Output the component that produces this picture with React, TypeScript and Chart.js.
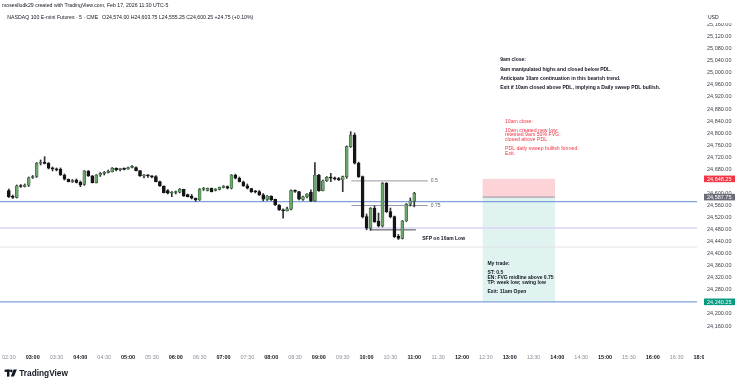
import React, { useEffect, useRef } from "react";
import { Chart, registerables } from "chart.js";

Chart.register(...registerables);

const FONT = "'Liberation Sans', Arial, sans-serif";

// ---------- data ----------
const symbolTitle = "NASDAQ 100 E-mini Futures \u00b7 5 \u00b7 CME";
const attribution = "moseslludk29 created with TradingView.com, Feb 17, 2026 11:30 UTC-5";

const barTimes = [
  "02:30","02:35","02:40","02:45","02:50","02:55","03:00","03:05","03:10","03:15",
  "03:20","03:25","03:30","03:35","03:40","03:45","03:50","03:55","04:00","04:05",
  "04:10","04:15","04:20","04:25","04:30","04:35","04:40","04:45","04:50","04:55",
  "05:00","05:05","05:10","05:15","05:20","05:25","05:30","05:35","05:40","05:45",
  "05:50","05:55","06:00","06:05","06:10","06:15","06:20","06:25","06:30","06:35",
  "06:40","06:45","06:50","06:55","07:00","07:05","07:10","07:15","07:20","07:25",
  "07:30","07:35","07:40","07:45","07:50","07:55","08:00","08:05","08:10","08:15",
  "08:20","08:25","08:30","08:35","08:40","08:45","08:50","08:55","09:00","09:05",
  "09:10","09:15","09:20","09:25","09:30","09:35","09:40","09:45","09:50","09:55",
  "10:00","10:05","10:10","10:15","10:20","10:25","10:30","10:35","10:40","10:45",
  "10:50","10:55","11:00"
];

const opens = [
  24609, 24590, 24587, 24625.5, 24623, 24627, 24652.75, 24656, 24700, 24702.5,
  24700, 24684.5, 24681, 24680, 24661, 24647, 24639, 24644, 24637, 24630,
  24674.5, 24658, 24635.5, 24661, 24666.75, 24669.5, 24672, 24683.5, 24679, 24681.5,
  24681, 24686, 24686, 24675.5, 24658, 24660.5, 24658, 24655.5, 24639, 24624.5,
  24609, 24600.5, 24603, 24604, 24613.5, 24596, 24591, 24584, 24578, 24613.75,
  24610, 24617, 24610, 24613.5, 24620.25, 24623, 24617, 24661, 24650.25, 24638,
  24625.5, 24616, 24606, 24606, 24595, 24580, 24591, 24580, 24561.5, 24545,
  24542, 24548, 24609, 24606, 24580, 24589, 24604, 24575, 24661, 24609,
  24642, 24653.5, 24651, 24649.5, 24644.5, 24655.5, 24755, 24793.75, 24700, 24655.5,
  24523, 24485, 24550.5, 24508, 24492, 24633.5, 24539.5, 24522.75, 24458, 24451,
  24508.5, 24564, 24574
];

const highs = [
  24614.75, 24594.75, 24628, 24629.5, 24631.25, 24654.5, 24659.5, 24702.5, 24711, 24722,
  24702.5, 24687.75, 24684.5, 24684.5, 24664.5, 24648, 24646.25, 24648, 24641.25, 24676,
  24676, 24659.5, 24662.75, 24669.5, 24672.75, 24677.75, 24686, 24684.5, 24682.75, 24684.5,
  24687.75, 24692.75, 24688, 24676, 24662.75, 24662.75, 24659.5, 24659.5, 24641.25, 24625,
  24613, 24606.5, 24608, 24616.25, 24614, 24598, 24596.5, 24585, 24616.25, 24619.75,
  24618, 24618, 24616, 24621.25, 24626.25, 24624.75, 24662.75, 24664, 24654.5, 24641.25,
  24631.25, 24617, 24609.75, 24609.75, 24599.75, 24593, 24592, 24581.5, 24563.25, 24549,
  24555, 24611.5, 24611.5, 24607, 24591.5, 24599.75, 24611.5, 24702, 24663, 24644.5,
  24656.25, 24666.75, 24654.5, 24653, 24657.75, 24757.5, 24805, 24800.5, 24704, 24657.75,
  24531.75, 24553, 24558.25, 24535, 24636.25, 24636, 24551.5, 24525, 24463.75, 24510.25,
  24566.5, 24585, 24603.75
];

const lows = [
  24586.5, 24583.25, 24584.75, 24619.75, 24621.25, 24623, 24649.5, 24653, 24694.25, 24697.5,
  24681, 24674.5, 24674.5, 24659.5, 24644.5, 24638, 24636.25, 24634.5, 24622.25, 24627,
  24656.25, 24634.5, 24634.5, 24656.25, 24661, 24667.75, 24671, 24674.5, 24674.5, 24677.75,
  24680, 24684.5, 24674.5, 24656.25, 24651.25, 24653, 24651.25, 24638, 24623, 24601.5,
  24598, 24589, 24598, 24601.5, 24589.75, 24588, 24581.5, 24573.25, 24576.5, 24609.75,
  24608, 24604.75, 24608, 24611.5, 24618, 24614.75, 24614.75, 24648, 24638, 24623,
  24614.75, 24603, 24601.5, 24593, 24575, 24576.5, 24576.5, 24560, 24543.25, 24517.5,
  24541.75, 24545, 24603, 24578.25, 24576.5, 24584.75, 24572.5, 24573.25, 24606.5, 24608,
  24639.5, 24639, 24644.5, 24643, 24605.75, 24650, 24752.5, 24697.5, 24653, 24518.5,
  24479, 24478, 24503.5, 24488.5, 24488.5, 24536.75, 24518.5, 24453.75, 24447, 24448.75,
  24506.75, 24558.25, 24555.25
];

const closes = [
  24589, 24586.5, 24625.5, 24623, 24628, 24652, 24656, 24700, 24702.5, 24699.5,
  24683.5, 24681, 24678, 24661, 24647, 24639, 24643, 24636.25, 24628, 24674.5,
  24658, 24635.5, 24661, 24666.75, 24669.5, 24673, 24683.5, 24679, 24681.5, 24680,
  24686, 24689.5, 24675.5, 24658, 24660.5, 24658, 24655, 24639, 24624.5, 24602.5,
  24600.5, 24603, 24606.5, 24613.75, 24591.5, 24589, 24584, 24578, 24613.75, 24616.5,
  24617, 24606, 24613.5, 24620.25, 24624.5, 24617, 24661, 24650.25, 24639, 24625.5,
  24617, 24606, 24605, 24595, 24580.5, 24591.5, 24578.25, 24561.5, 24545, 24542,
  24549, 24609, 24607, 24580.5, 24589, 24598, 24575, 24661, 24609, 24642,
  24653.5, 24651, 24648, 24644.5, 24655.5, 24755, 24793.75, 24700, 24655.5, 24522.75,
  24485, 24550.5, 24506.25, 24492, 24633.5, 24539.5, 24522.75, 24456.25, 24451, 24508.5,
  24564, 24575.5, 24600.25
];

const xTickLabels = [
  "02:30","03:00","03:30","04:00","04:30","05:00","05:30","06:00","06:30","07:00",
  "07:30","08:00","08:30","09:00","09:30","10:00","10:30","11:00","11:30","12:00",
  "12:30","13:00","13:30","14:00","14:30","15:00","15:30","16:00","16:30","18:00"
];

const yTickValues = [
  24160, 24200, 24280, 24320, 24360, 24400, 24440, 24480, 24520, 24560, 24600,
  24680, 24720, 24760, 24800, 24840, 24880, 24920, 24960, 25000, 25040, 25080, 25120, 25160
];

// horizontal levels
const pdlLevel = 24573;
const weekLowLevel = 24240.25;
const lavenderLevel = 24485;
const greyLevel = 24422;

// fib drawn from 9am high to 10am low
const fibHigh = 24805;
const fibLow = 24478;
const fibRatios = [0.5, 0.75];
const fibFrom = "09:41";
const fibTo = "11:17";

// SFP line
const sfpLevel = 24479;
const sfpFrom = "10:04";
const sfpTo = "11:02";

// short position tool
const positionEntry = 24587.75;
const positionStop = 24648.25;
const positionTarget = 24240.25;
const positionFrom = "12:26";
const positionTo = "13:57";

// notes
const nineAmNote = [
  "9am close:", "",
  "9am manipulated highs and closed below PDL.", "",
  "Anticipate 10am continuation in this bearish trend.", "",
  "Exit if 10am closed above PDL, implying a Daily sweep PDL bullish."
];
const nineAmNoteAt = { time: "12:48", price: 25043 };

const tenAmNote = [
  "10am close:", "",
  "10am created new low;",
  "retested 9am 50% FVG;",
  "closed above PDL", "",
  "PDL daily sweep bullish formed.",
  "Exit."
];
const tenAmNoteAt = { time: "12:54", price: 24840 };

const tradeNote = [
  "My trade:", "",
  "ST: 0.5",
  "EN: FVG midline above 0.75",
  "TP: week low; swing low", "",
  "Exit: 11am Open"
];
const tradeNoteAt = { time: "12:32", price: 24368 };

const sfpNote = "SFP on 10am Low";
const sfpNoteAt = { time: "11:10", price: 24450 };

// visible window
const xView = { min: 138.9, max: 1015.6 };
const yView = { min: 24097, max: 25205.3 };

// ---------- helpers ----------
function sessionMinutes(label: string): number {
  const [h, m] = label.split(":").map(Number);
  const raw = h * 60 + m;
  // the 17:00-18:00 maintenance break takes no room on the time axis
  return h >= 18 ? raw - 60 : raw;
}
const xLabelByValue = new Map<number, string>(xTickLabels.map((l) => [sessionMinutes(l), l]));
const fmt2 = (v: number) =>
  v.toLocaleString("en-US", { minimumFractionDigits: 2, maximumFractionDigits: 2 });

const UP_FILL = "#67a86a";
const UP_EDGE = "#2f4f31";
const DOWN_FILL = "#141414";
const LEVEL_BLUE = "#7fa2dc";

function hline(level: number, from: number, to: number, color: string, width: number) {
  return {
    type: "line" as const,
    data: [{ x: from, y: level }, { x: to, y: level }],
    borderColor: color,
    borderWidth: width,
    pointRadius: 0,
    pointHoverRadius: 0,
    fill: false,
    order: 3,
  };
}

const drawingsPlugin = {
  id: "drawings",
  beforeDatasetsDraw(chart: any) {
    const { ctx, chartArea } = chart;
    const xs = chart.scales.x;
    const ys = chart.scales.y;
    ctx.save();
    ctx.beginPath();
    ctx.rect(chartArea.left, chartArea.top, chartArea.right - chartArea.left, chartArea.bottom - chartArea.top);
    ctx.clip();
    const x0 = xs.getPixelForValue(sessionMinutes(positionFrom));
    const x1 = xs.getPixelForValue(sessionMinutes(positionTo));
    const yE = ys.getPixelForValue(positionEntry);
    const yS = ys.getPixelForValue(positionStop);
    const yT = ys.getPixelForValue(positionTarget);
    ctx.fillStyle = "rgba(242,54,69,0.22)";
    ctx.fillRect(x0, yS, x1 - x0, yE - yS);
    ctx.fillStyle = "rgba(8,153,129,0.12)";
    ctx.fillRect(x0, yE, x1 - x0, yT - yE);
    ctx.strokeStyle = "rgba(120,123,134,0.75)";
    ctx.lineWidth = 1;
    ctx.beginPath();
    ctx.moveTo(x0, yE);
    ctx.lineTo(x1, yE);
    ctx.stroke();
    ctx.restore();
  },
  afterDatasetsDraw(chart: any) {
    const { ctx } = chart;
    const xs = chart.scales.x;
    const ys = chart.scales.y;
    ctx.save();
    ctx.textBaseline = "middle";
    ctx.textAlign = "left";

    const block = (lines: string[], at: { time: string; price: number }, color: string, lh: number, weight: string, size: number) => {
      const x = xs.getPixelForValue(sessionMinutes(at.time));
      const y = ys.getPixelForValue(at.price);
      ctx.fillStyle = color;
      ctx.font = `${weight} ${size}px ${FONT}`;
      lines.forEach((l, i) => {
        if (l) ctx.fillText(l, x, y + i * lh);
      });
    };
    block(nineAmNote, nineAmNoteAt, "#131722", 4.7, "bold", 5);
    block(tenAmNote, tenAmNoteAt, "#f23645", 4.6, "normal", 5.2);
    block(tradeNote, tradeNoteAt, "#131722", 4.75, "bold", 5);
    block([sfpNote], sfpNoteAt, "#131722", 5, "bold", 5);

    // fib labels
    ctx.font = `5px ${FONT}`;
    ctx.fillStyle = "#5d606b";
    const fx = xs.getPixelForValue(sessionMinutes(fibTo)) + 3;
    fibRatios.forEach((r) => {
      const lvl = fibHigh - (fibHigh - fibLow) * r;
      ctx.fillText(String(r), fx, ys.getPixelForValue(lvl));
    });
    ctx.restore();
  },
  afterDraw(chart: any) {
    const { ctx, chartArea } = chart;
    const ys = chart.scales.y;
    ctx.save();
    // corner box under the price axis (clips the time axis)
    ctx.fillStyle = "#ffffff";
    ctx.fillRect(704, chartArea.bottom, 36, 20);

    // price axis labels for the position tool
    const axisLabel = (price: number, bg: string) => {
      const y = ys.getPixelForValue(price);
      ctx.fillStyle = bg;
      ctx.fillRect(chartArea.right + 7, y - 3.3, 31, 6.6);
      ctx.fillStyle = "#ffffff";
      ctx.font = `5.5px ${FONT}`;
      ctx.textBaseline = "middle";
      ctx.textAlign = "left";
      ctx.fillText(fmt2(price), chartArea.right + 10, y + 0.3);
    };
    axisLabel(positionStop, "#f23645");
    axisLabel(positionEntry, "#6a6d78");
    axisLabel(positionTarget, "#089981");

    // USD box
    ctx.fillStyle = "#ffffff";
    ctx.fillRect(chartArea.right + 1, chartArea.top, 42, 12);
    ctx.fillStyle = "#131722";
    ctx.font = `5px ${FONT}`;
    ctx.textBaseline = "middle";
    ctx.fillText("USD", chartArea.right + 11, 17.3);

    // header
    ctx.fillStyle = "#131722";
    ctx.font = `5.2px ${FONT}`;
    ctx.fillText(attribution, 2, 5.8);
    const n = closes.length - 1;
    const chg = closes[n] - closes[n - 1];
    const pct = (chg / closes[n - 1]) * 100;
    const ohlc = `O${fmt2(opens[n])} H${fmt2(highs[n])} L${fmt2(lows[n])} C${fmt2(closes[n])} ${chg >= 0 ? "+" : ""}${chg.toFixed(2)} (${chg >= 0 ? "+" : ""}${pct.toFixed(2)}%)`;
    ctx.fillText(symbolTitle, 7.3, 17.3);
    const w = ctx.measureText(symbolTitle).width;
    ctx.fillText(ohlc, 7.3 + w + 4, 17.3);

    // TradingView logo
    ctx.fillStyle = "#131722";
    ctx.fillRect(4.6, 369.6, 5.2, 2.3);
    ctx.fillRect(7.0, 369.6, 2.4, 7.0);
    ctx.beginPath();
    ctx.arc(11.3, 370.9, 1.3, 0, Math.PI * 2);
    ctx.fill();
    ctx.beginPath();
    ctx.moveTo(13.6, 369.6);
    ctx.lineTo(16.9, 369.6);
    ctx.lineTo(13.9, 376.6);
    ctx.lineTo(10.8, 376.6);
    ctx.closePath();
    ctx.fill();
    ctx.font = `bold 8.3px ${FONT}`;
    ctx.fillText("TradingView", 19.2, 373.3);
    ctx.restore();
  },
};

export default function App() {
  const ref = useRef<HTMLCanvasElement | null>(null);

  useEffect(() => {
    if (!ref.current) return;
    const xs = barTimes.map(sessionMinutes);
    const bodyData = xs.map((x, i) => ({ x, y: [opens[i], closes[i]] }));
    const wickData = xs.map((x, i) => ({ x, y: [lows[i], highs[i]] }));
    const isUp = (i: number) => closes[i] >= opens[i];

    const fibLines = fibRatios.map((r) =>
      hline(fibHigh - (fibHigh - fibLow) * r, sessionMinutes(fibFrom), sessionMinutes(fibTo), "#9598a1", 1)
    );

    const chart = new Chart(ref.current, {
      type: "bar",
      data: {
        datasets: [
          {
            type: "bar",
            label: "body",
            data: bodyData as any,
            barThickness: 3,
            minBarLength: 1,
            grouped: false,
            borderSkipped: false,
            backgroundColor: (c: any) => (isUp(c.dataIndex) ? UP_FILL : DOWN_FILL),
            borderColor: (c: any) => (isUp(c.dataIndex) ? UP_EDGE : DOWN_FILL),
            borderWidth: 0.6,
            order: 0,
          } as any,
          {
            type: "bar",
            label: "wick",
            data: wickData as any,
            barThickness: 1,
            grouped: false,
            borderSkipped: false,
            backgroundColor: "#333333",
            borderWidth: 0,
            order: 1,
          } as any,
          hline(pdlLevel, xView.min, xView.max, LEVEL_BLUE, 1.2) as any,
          hline(weekLowLevel, xView.min, xView.max, LEVEL_BLUE, 1.2) as any,
          hline(lavenderLevel, xView.min, xView.max, "#d9d6f3", 1.6) as any,
          hline(greyLevel, xView.min, xView.max, "#e2e3e8", 1) as any,
          ...(fibLines as any[]),
          hline(sfpLevel, sessionMinutes(sfpFrom), sessionMinutes(sfpTo), "#4a4a4a", 1) as any,
        ],
      },
      options: {
        animation: false,
        responsive: false,
        devicePixelRatio: 1,
        events: [],
        layout: { padding: { top: 11, left: 0, right: 0, bottom: 0 } },
        plugins: { legend: { display: false }, tooltip: { enabled: false } },
        scales: {
          x: {
            type: "linear",
            position: "bottom",
            min: xView.min,
            max: xView.max,
            offset: false,
            grid: { display: false, drawTicks: false },
            border: { display: false },
            afterBuildTicks: (scale: any) => {
              scale.ticks = xTickLabels.map((l) => ({ value: sessionMinutes(l) }));
            },
            afterFit: (scale: any) => {
              scale.height = 41;
              scale.paddingLeft = 0;
              scale.paddingRight = 0;
              scale.paddingTop = 0;
              scale.paddingBottom = 0;
            },
            ticks: {
              autoSkip: false,
              maxRotation: 0,
              minRotation: 0,
              padding: 9,
              callback: (v: any) => xLabelByValue.get(Number(v)) ?? "",
              font: (c: any) => ({
                family: FONT,
                size: 5.5,
                weight: c.tick && c.tick.value % 60 === 0 ? "bold" : "normal",
              }),
              color: (c: any) => (c.tick && c.tick.value % 60 === 0 ? "#131722" : "#8c8f99"),
            },
          },
          y: {
            type: "linear",
            position: "right",
            min: yView.min,
            max: yView.max,
            beginAtZero: false,
            grid: { display: false, drawTicks: false },
            border: { display: false },
            afterBuildTicks: (scale: any) => {
              scale.ticks = yTickValues.map((v) => ({ value: v }));
            },
            afterFit: (scale: any) => {
              scale.width = 43;
              scale.paddingLeft = 0;
              scale.paddingRight = 0;
              scale.paddingTop = 0;
              scale.paddingBottom = 0;
            },
            ticks: {
              padding: 10,
              callback: (v: any) => fmt2(Number(v)),
              font: { family: FONT, size: 5.5 },
              color: "#3b3f4a",
            },
          },
        },
      } as any,
      plugins: [drawingsPlugin as any],
    });
    return () => chart.destroy();
  }, []);

  return (
    <div style={{ position: "fixed", left: 0, top: 0, width: 740, height: 386, background: "#ffffff" }}>
      <canvas ref={ref} width={740} height={386} style={{ width: 740, height: 386, display: "block" }} />
    </div>
  );
}
